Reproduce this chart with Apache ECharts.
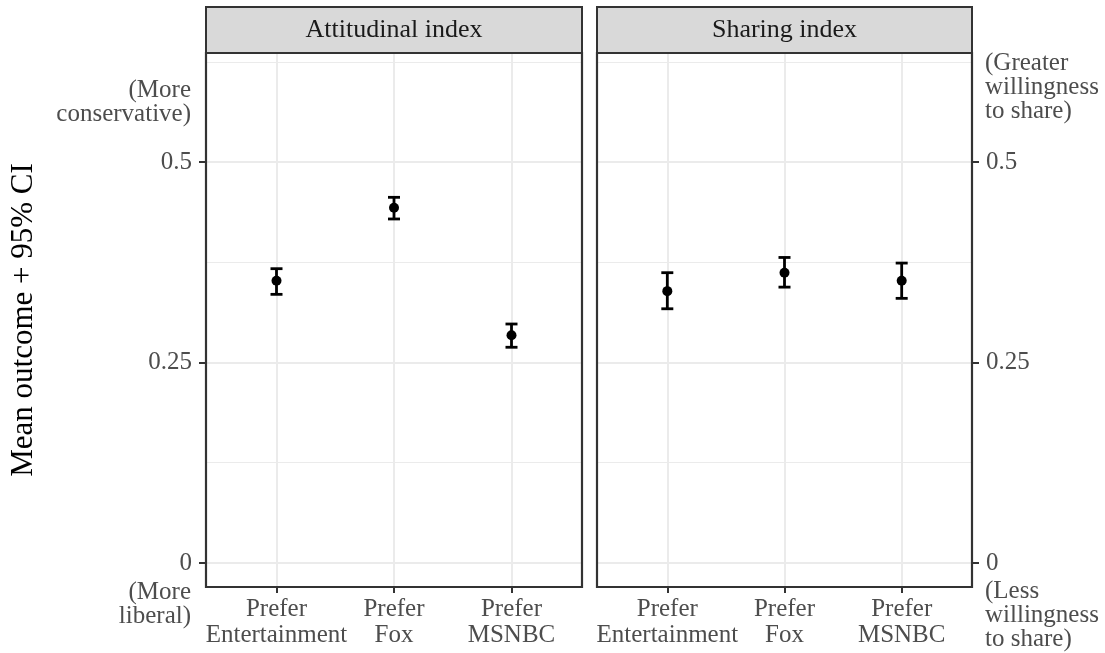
<!DOCTYPE html>
<html>
<head>
<meta charset="utf-8">
<script src="https://cdn.jsdelivr.net/npm/echarts@6/dist/echarts.min.js"></script>
<style>
html,body{margin:0;padding:0;background:#fff;}
#c{width:1105px;height:653px;}
</style>
</head>
<body>
<div id="c"></div>
<script>
// ---- data ----
const categories = ['Prefer\nEntertainment', 'Prefer\nFox', 'Prefer\nMSNBC'];
const panels = ['Attitudinal index', 'Sharing index'];
const attMean = [0.352, 0.443, 0.284];
const attLow  = [0.335, 0.429, 0.269];
const attHigh = [0.367, 0.456, 0.298];
const shrMean = [0.339, 0.362, 0.352];
const shrLow  = [0.317, 0.344, 0.330];
const shrHigh = [0.362, 0.381, 0.374];
const yTicks = [0, 0.25, 0.5];
const yTickLabels = ['0', '0.25', '0.5'];
const yMinor = [0.125, 0.375, 0.625];
const leftTop = '(More\nconservative)';
const leftBottom = '(More\nliberal)';
const rightTop = '(Greater\nwillingness\nto share)';
const rightBottom = '(Less\nwillingness\nto share)';

const FONT = 'Liberation Serif';
const TICKCOL = '#4d4d4d';
const YMIN = -0.03, YMAX = 0.636;

const chart = echarts.init(document.getElementById('c'), null, {renderer: 'canvas'});

const grids = [
  {left: 206, top: 53, width: 376, height: 534},
  {left: 597, top: 53, width: 375, height: 534}
];

function xAxisFor(i) {
  return {
    gridIndex: i, type: 'value', min: -0.6, max: 2.6, position: 'bottom',
    axisLine: {show: false, onZero: false},
    axisTick: {show: true, customValues: [0, 1, 2], length: 6, lineStyle: {color: '#333', width: 2}},
    axisLabel: {
      customValues: [0, 1, 2],
      formatter: v => categories[Math.round(v)],
      color: TICKCOL, fontFamily: FONT, fontSize: 25, lineHeight: 26, margin: 9
    },
    splitLine: {show: true, lineStyle: {color: '#ebebeb', width: 2}}
  };
}
function yMajor(i, pos) {
  return {
    gridIndex: i, type: 'value', min: YMIN, max: YMAX, position: pos,
    axisLine: {show: false, onZero: false},
    axisTick: {show: true, customValues: yTicks, length: 7, lineStyle: {color: '#333', width: 2}},
    axisLabel: {
      customValues: yTicks,
      formatter: v => yTickLabels[yTicks.findIndex(t => Math.abs(t - v) < 1e-6)],
      color: TICKCOL, fontFamily: FONT, fontSize: 25, margin: 14
    },
    splitLine: {show: true, lineStyle: {color: '#ebebeb', width: 2}}
  };
}
function yMinorAxis(i, pos) {
  return {
    gridIndex: i, type: 'value', min: YMIN, max: YMAX, position: pos,
    axisLine: {show: false, onZero: false},
    axisTick: {show: false, customValues: yMinor},
    axisLabel: {show: false, customValues: yMinor},
    splitLine: {show: true, lineStyle: {color: '#ebebeb', width: 1}}
  };
}

function errRender(params, api) {
  const x = api.value(0), lo = api.value(1), hi = api.value(2);
  const pL = api.coord([x, lo]), pH = api.coord([x, hi]);
  const w = 6;
  const st = {stroke: '#000', lineWidth: 2.8};
  return {type: 'group', children: [
    {type: 'line', shape: {x1: pH[0], y1: pH[1], x2: pL[0], y2: pL[1]}, style: st},
    {type: 'line', shape: {x1: pH[0] - w, y1: pH[1], x2: pH[0] + w, y2: pH[1]}, style: st},
    {type: 'line', shape: {x1: pL[0] - w, y1: pL[1], x2: pL[0] + w, y2: pL[1]}, style: st}
  ]};
}

const sets = [[attMean, attLow, attHigh], [shrMean, shrLow, shrHigh]];
const series = [];
sets.forEach((s, i) => {
  const yi = i * 2;
  series.push({
    type: 'custom', xAxisIndex: i, yAxisIndex: yi, renderItem: errRender,
    data: s[0].map((m, k) => [k, s[1][k], s[2][k]]), z: 3, silent: true
  });
  series.push({
    type: 'scatter', xAxisIndex: i, yAxisIndex: yi, symbol: 'circle', symbolSize: 10,
    itemStyle: {color: '#000', opacity: 1}, data: s[0].map((m, k) => [k, m]), z: 4, silent: true
  });
});

const txt = (x, y, text, align, size, color, extra) => Object.assign({
  type: 'text', x: x, y: y, z: 50,
  style: {text: text, fill: color || TICKCOL, font: (size || 25) + 'px "' + FONT + '"',
          textAlign: align, textVerticalAlign: 'middle', lineHeight: 24}
}, extra || {});

const graphics = [];
grids.forEach((g, i) => {
  graphics.push({type: 'rect', z: 40, shape: {x: g.left, y: 7, width: g.width, height: g.top - 7},
    style: {fill: '#d9d9d9', stroke: '#333', lineWidth: 2}});
  graphics.push(txt(g.left + g.width / 2, 30, panels[i], 'center', 26, '#1a1a1a'));
  graphics.push({type: 'rect', z: 45, shape: {x: g.left, y: g.top, width: g.width, height: g.height},
    style: {fill: 'none', stroke: '#333', lineWidth: 2.2}});
});
graphics.push(txt(191, 102, leftTop, 'right'));
graphics.push(txt(191, 604, leftBottom, 'right'));
graphics.push(txt(985, 87, rightTop, 'left'));
graphics.push(txt(985, 615, rightBottom, 'left'));
graphics.push({type: 'text', x: 24, y: 320, rotation: Math.PI / 2, z: 50,
  style: {text: 'Mean outcome + 95% CI', fill: '#000', font: '31px "' + FONT + '"',
          textAlign: 'center', textVerticalAlign: 'middle'}});

chart.setOption({
  animation: false,
  backgroundColor: '#fff',
  grid: grids,
  xAxis: [xAxisFor(0), xAxisFor(1)],
  yAxis: [yMajor(0, 'left'), yMinorAxis(0, 'left'), yMajor(1, 'right'), yMinorAxis(1, 'right')],
  series: series,
  graphic: graphics
});
</script>
</body>
</html>
